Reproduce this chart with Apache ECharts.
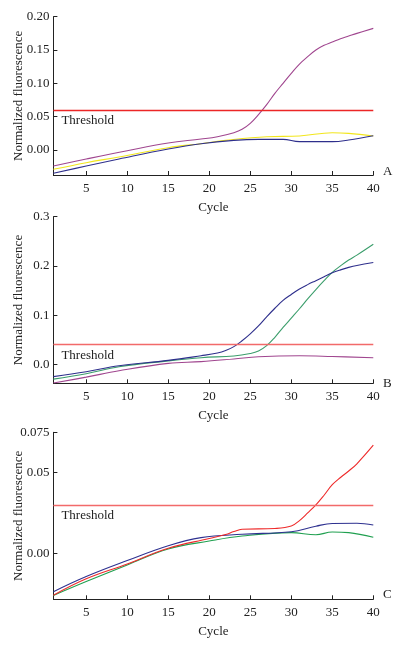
<!DOCTYPE html>
<html>
<head>
<meta charset="utf-8">
<script src="https://cdn.jsdelivr.net/npm/echarts@6/dist/echarts.min.js"></script>
<style>
  html, body { margin: 0; padding: 0; background: #fff; }
  #chart { width: 399px; height: 645px; }
</style>
</head>
<body>
<div id="chart"></div>
<script>
  // x ticks shared by all panels
  var xTicks = [5, 10, 15, 20, 25, 30, 35, 40]

  // panel A: [cycle, normalized fluorescence]
  var aPurple = [[1, -0.024], [5, -0.0135], [10, -0.001], [15, 0.0105], [19, 0.0165], [21, 0.020], [23, 0.026],
    [24, 0.031], [25, 0.040], [26, 0.053], [27, 0.068], [28, 0.085], [29, 0.100], [30, 0.115], [31, 0.129],
    [32, 0.140], [33, 0.150], [34, 0.157], [35, 0.162], [36, 0.167], [37, 0.171], [38, 0.175], [40, 0.1825]]
  var aYellow = [[1, -0.029], [5, -0.019], [9, -0.0105], [15, 0.0035], [19, 0.0095], [22, 0.0145], [27, 0.020],
    [31, 0.021], [35, 0.026], [37, 0.025], [40, 0.021]]
  var aBlue = [[1, -0.035], [5, -0.024], [9, -0.0135], [15, 0.0015], [19, 0.0095], [23, 0.0145], [26, 0.016],
    [29, 0.016], [31, 0.0125], [35, 0.0125], [37, 0.015], [40, 0.0215]]
  var aThreshold = 0.057
  var yTicksA = [0, 0.05, 0.10, 0.15, 0.20]
  var yLabelsA = ['0.00', '0.05', '0.10', '0.15', '0.20']

  // panel B
  var bBlue = [[1, -0.025], [5, -0.015], [9, -0.003], [15, 0.008], [19, 0.0175], [21, 0.023], [22, 0.028],
    [23, 0.036], [24, 0.048], [25, 0.062], [26, 0.078], [27, 0.0965], [28, 0.114], [29, 0.130], [30, 0.142],
    [31, 0.153], [32, 0.162], [33, 0.170], [34, 0.178], [35, 0.186], [36, 0.192], [37, 0.197], [38, 0.201], [40, 0.207]]
  var bGreen = [[1, -0.030], [5, -0.019], [9, -0.005], [15, 0.007], [19, 0.0135], [23, 0.017], [25, 0.022],
    [26, 0.027], [27, 0.038], [28, 0.055], [29, 0.075], [30, 0.094], [31, 0.113], [32, 0.133], [33, 0.152],
    [34, 0.170], [35, 0.187], [36, 0.200], [37, 0.212], [38, 0.222], [40, 0.244]]
  var bPurple = [[1, -0.038], [5, -0.026], [9, -0.013], [15, 0.002], [19, 0.0055], [23, 0.011], [26, 0.0155],
    [31, 0.0175], [35, 0.016], [40, 0.0134]]
  var bThreshold = 0.0412
  var yTicksB = [0, 0.1, 0.2, 0.3]
  var yLabelsB = ['0.0', '0.1', '0.2', '0.3']

  // panel C
  var cRed = [[1, -0.026], [5, -0.0158], [10, -0.0066], [15, 0.0031], [20, 0.0092], [22, 0.0117], [23, 0.0135],
    [24, 0.0149], [28, 0.0154], [30, 0.0169], [31, 0.0203], [32, 0.025], [33, 0.030], [34, 0.036], [35, 0.0425],
    [36, 0.047], [37, 0.051], [38, 0.0555], [40, 0.067]]
  var cBlue = [[1, -0.0238], [5, -0.0144], [10, -0.0045], [15, 0.0047], [19, 0.0097], [24, 0.0118], [30, 0.0134],
    [33, 0.0168], [35, 0.0185], [38, 0.0186], [40, 0.0175]]
  var cGreen = [[1, -0.0261], [5, -0.0175], [10, -0.0072], [15, 0.0027], [20, 0.0076], [24, 0.0107], [30, 0.0128],
    [33, 0.0115], [35, 0.0132], [37, 0.0128], [40, 0.0099]]
  var cThreshold = 0.0303
  var yTicksC = [0, 0.05, 0.075]
  var yLabelsC = ['0.00', '0.05', '0.075']

  var FONT = 'Liberation Serif'
  var INK = '#222'

  function xAxisFor(idx) {
    return {
      type: 'value', gridIndex: idx, min: 1, max: 40,
      name: 'Cycle', nameLocation: 'middle', nameGap: 26, nameMoveOverlap: false,
      nameTextStyle: { fontFamily: FONT, fontSize: 13, color: INK },
      axisLine: { onZero: false, lineStyle: { color: INK, width: 1 } },
      axisTick: { inside: true, length: 4, customValues: xTicks, lineStyle: { color: INK } },
      axisLabel: { customValues: xTicks, margin: 7, fontFamily: FONT, fontSize: 13, color: INK },
      splitLine: { show: false }
    }
  }

  function yAxisFor(idx, min, max, ticks, labels) {
    return {
      type: 'value', gridIndex: idx, min: min, max: max,
      name: 'Normalized fluorescence', nameLocation: 'middle', nameGap: 28, nameMoveOverlap: false,
      nameTextStyle: { fontFamily: FONT, fontSize: 13, color: INK },
      axisLine: { show: true, onZero: false, lineStyle: { color: INK, width: 1 } },
      axisTick: { show: true, inside: true, length: 4, customValues: ticks, lineStyle: { color: INK } },
      axisLabel: {
        customValues: ticks, margin: 4, fontFamily: FONT, fontSize: 13, color: INK,
        formatter: function (v) {
          for (var i = 0; i < ticks.length; i++) {
            if (Math.abs(ticks[i] - v) < 1e-9) return labels[i]
          }
          return ''
        }
      },
      splitLine: { show: false }
    }
  }

  function line(idx, data, color, threshold, thrColor) {
    var s = {
      type: 'line', xAxisIndex: idx, yAxisIndex: idx, data: data,
      smooth: 0.4, showSymbol: false, silent: true, animation: false,
      lineStyle: { color: color, width: 1.1 }
    }
    if (threshold != null) {
      s.markLine = {
        symbol: 'none', silent: true, animation: false,
        lineStyle: { color: thrColor, width: 1.4, type: 'solid' },
        label: {
          formatter: 'Threshold', position: 'insideStartBottom', distance: [8, 4],
          fontFamily: FONT, fontSize: 13, color: INK
        },
        data: [{ yAxis: threshold }]
      }
    }
    return s
  }

  var gridBase = { left: 53.4, right: 25.7, containLabel: false, outerBoundsMode: 'none' }

  var chart = echarts.init(document.getElementById('chart'))
  chart.setOption({
    backgroundColor: '#fff',
    grid: [
      Object.assign({ top: 16.7, height: 158.3 }, gridBase),
      Object.assign({ top: 216.7, height: 166.6 }, gridBase),
      Object.assign({ top: 432.3, height: 167 }, gridBase)
    ],
    xAxis: [xAxisFor(0), xAxisFor(1), xAxisFor(2)],
    yAxis: [
      yAxisFor(0, -0.0375, 0.2, yTicksA, yLabelsA),
      yAxisFor(1, -0.0385, 0.3, yTicksB, yLabelsB),
      yAxisFor(2, -0.0285, 0.075, yTicksC, yLabelsC)
    ],
    graphic: [
      { type: 'text', left: 383, top: 165, style: { text: 'A', font: '13px "Liberation Serif"', fill: INK } },
      { type: 'text', left: 383, top: 377, style: { text: 'B', font: '13px "Liberation Serif"', fill: INK } },
      { type: 'text', left: 383, top: 588, style: { text: 'C', font: '13px "Liberation Serif"', fill: INK } }
    ],
    series: [
      line(0, aYellow, '#f2e61c', aThreshold, '#ec2626'),
      line(0, aBlue, '#2e2f8c'),
      line(0, aPurple, '#a0468f'),
      line(1, bPurple, '#a0468f', bThreshold, '#f26a6a'),
      line(1, bGreen, '#3c9e6c'),
      line(1, bBlue, '#2e2f8c'),
      line(2, cGreen, '#20a050', cThreshold, '#f26a6a'),
      line(2, cBlue, '#2e3190'),
      line(2, cRed, '#ee2a2a')
    ]
  })
</script>
</body>
</html>
